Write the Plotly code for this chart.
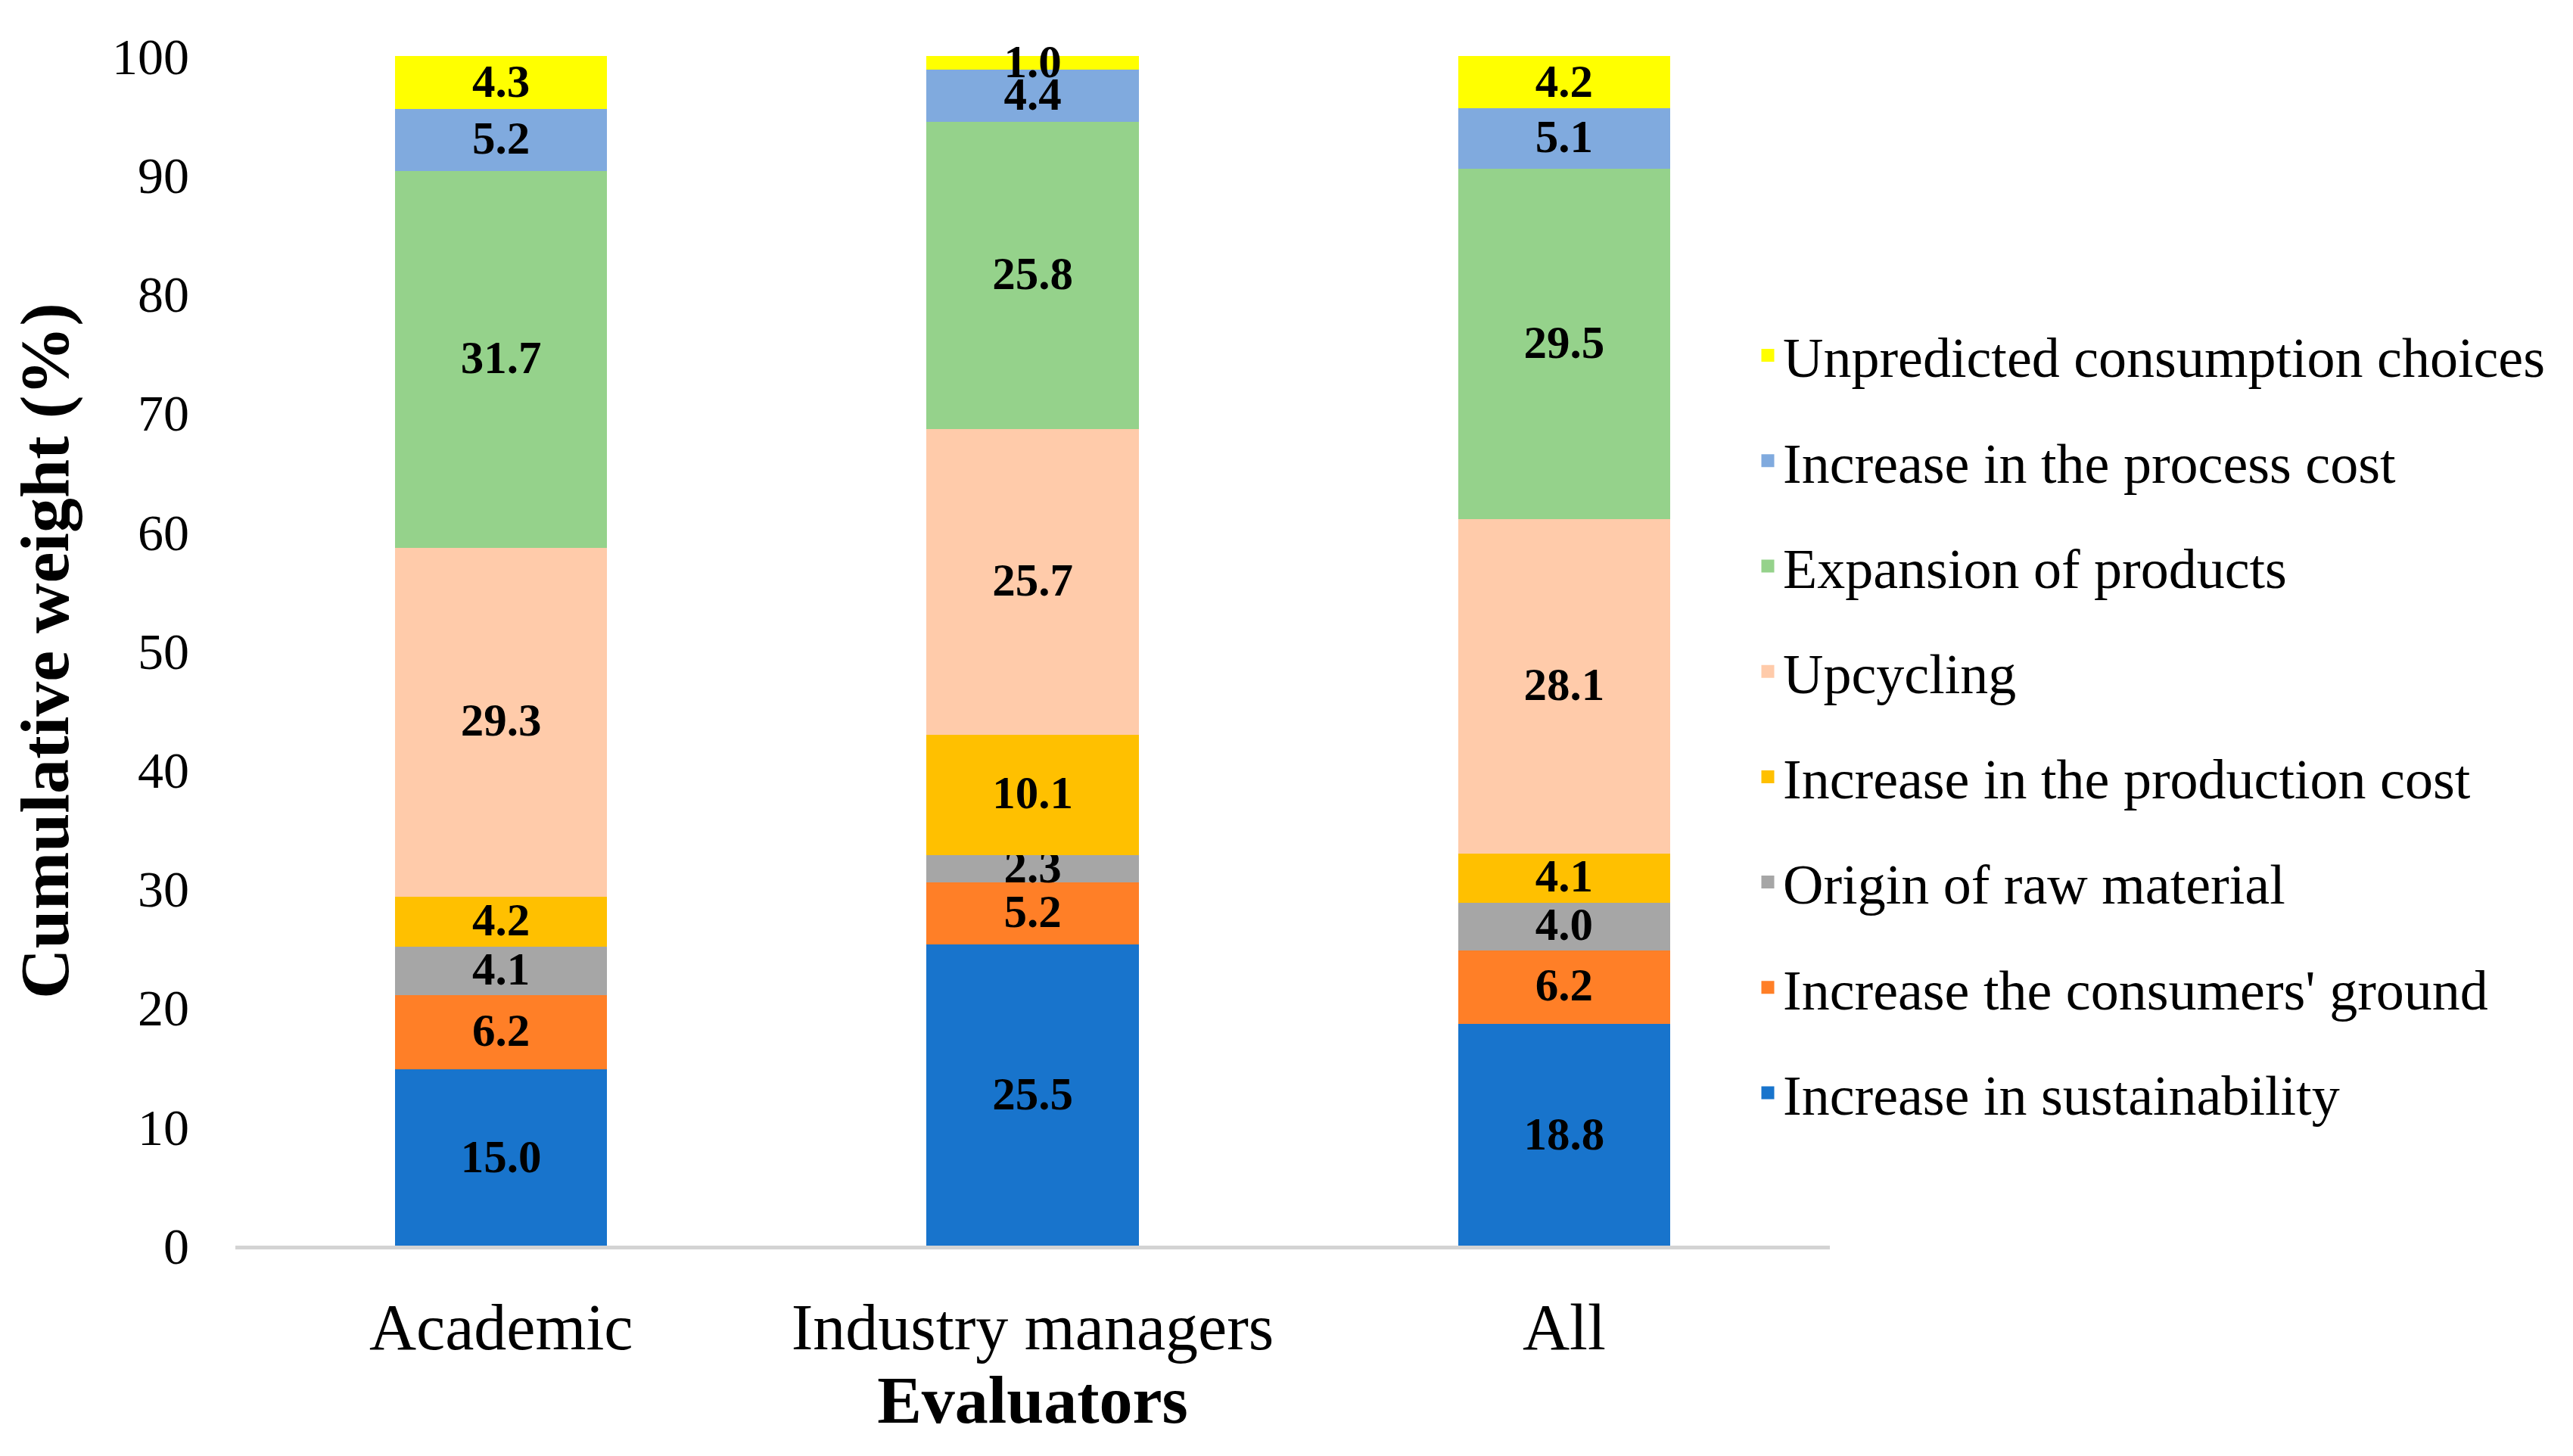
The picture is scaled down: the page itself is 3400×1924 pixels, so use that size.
import plotly.graph_objects as go

evaluators = ["Academic", "Industry managers", "All"]

factors = [
    "Increase in sustainability",
    "Increase the consumers' ground",
    "Origin of raw material",
    "Increase in the production cost",
    "Upcycling",
    "Expansion of products",
    "Increase in the process cost",
    "Unpredicted consumption choices",
]

sustainability = [15.0, 25.5, 18.8]
consumers_ground = [6.2, 5.2, 6.2]
raw_material = [4.1, 2.3, 4.0]
production_cost = [4.2, 10.1, 4.1]
upcycling = [29.3, 25.7, 28.1]
expansion = [31.7, 25.8, 29.5]
process_cost = [5.2, 4.4, 5.1]
unpredicted = [4.3, 1.0, 4.2]

series = [sustainability, consumers_ground, raw_material, production_cost,
          upcycling, expansion, process_cost, unpredicted]

colors = ["#1874CC", "#FF7F27", "#A6A6A6", "#FFC000",
          "#FFCBAA", "#95D28B", "#80AADE", "#FFFF00"]

y_ticks = list(range(0, 101, 10))

FONT = "Liberation Serif"
LABEL_FONT = dict(family=FONT, size=61, color="black", weight="bold")

fig = go.Figure()
for i, (name, vals, col) in enumerate(zip(factors, series, colors)):
    fig.add_trace(go.Bar(
        x=evaluators, y=vals, name=name,
        marker=dict(color=col, line=dict(width=5, color=col)),
        text=[f"{v:.1f}" for v in vals],
        textposition="inside",
        insidetextanchor="middle",
        constraintext="none",
        textangle=0,
        insidetextfont=LABEL_FONT,
        legendgroup=f"g{i}",
        legendrank=1000 - i * 10,
        cliponaxis=False,
    ))

W, H = 3400, 1924
L, R, T, B = 303, 990, 66, 286
plot_w = W - L - R
plot_h = H - T - B

legend_left = 2308
legend_center_y = 949

fig.update_layout(
    width=W, height=H,
    barmode="stack",
    bargap=0.608,
    paper_bgcolor="white",
    plot_bgcolor="white",
    margin=dict(l=L, r=R, t=T, b=B),
    font=dict(family=FONT, color="black"),
    legend=dict(
        x=(legend_left - L) / plot_w,
        xanchor="left",
        y=(H - B - legend_center_y) / plot_h,
        yanchor="middle",
        traceorder="grouped",
        tracegroupgap=40,
        itemwidth=30,
        font=dict(family=FONT, size=74, color="black"),
        bgcolor="rgba(0,0,0,0)",
    ),
    xaxis=dict(
        title=dict(text="Evaluators", font=dict(family=FONT, size=88, color="black", weight="bold"), standoff=18),
        tickfont=dict(family=FONT, size=86, color="black"),
        showline=True, linecolor="#D3D3D3", linewidth=5,
        ticks="", showgrid=False,
        ticklabelstandoff=29,
        range=[-0.5, 2.5],
    ),
    yaxis=dict(
        title=dict(text="Cumulative weight (%)", font=dict(family=FONT, size=92, color="black", weight="bold"), standoff=30),
        tickfont=dict(family=FONT, size=68, color="black"),
        range=[0, 100],
        tickvals=y_ticks,
        showgrid=False, showline=False, zeroline=False,
        ticks="",
        ticklabelstandoff=60,
    ),
)

fig.write_html("out.html")
